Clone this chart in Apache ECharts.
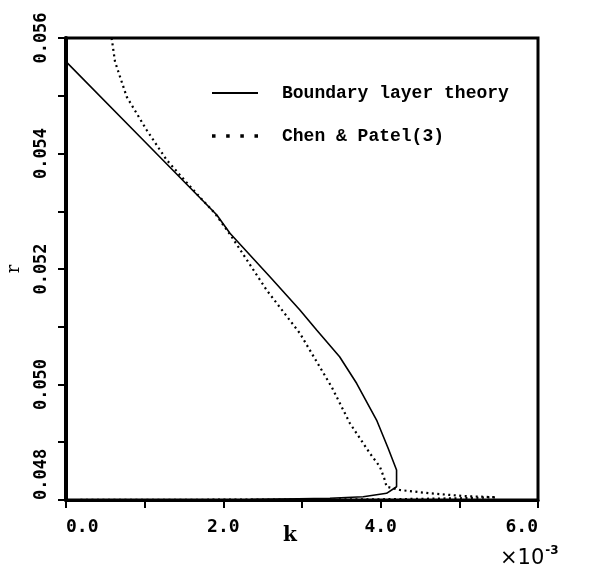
<!DOCTYPE html>
<html>
<head>
<meta charset="utf-8">
<script src="https://cdn.jsdelivr.net/npm/echarts@6/dist/echarts.min.js"></script>
<style>html,body{margin:0;padding:0;background:#fff}#c{width:594px;height:567px}</style>
</head>
<body>
<div id="c"></div>
<script>
// k values in units of 1e-3
var solidK = [0, 0.94, 1.915, 2.084, 2.592, 2.973, 3.186, 3.478, 3.694, 3.948, 4.095, 4.202, 4.202, 4.075, 3.778, 3.355, 2.34, 0];
var solidR = [0.05559, 0.05429, 0.05294, 0.052618, 0.051867, 0.05129, 0.050944, 0.050481, 0.050021, 0.049385, 0.048895, 0.048519, 0.04823, 0.048116, 0.048057, 0.048029, 0.048009, 0.048];
var dottedK = [0.58, 0.623, 0.771, 1.025, 1.28, 1.618, 1.893, 2.105, 2.55, 2.973, 3.38, 3.609, 3.863, 3.99, 4.053, 4.075, 4.244, 4.625, 5.048, 5.47, 5.0, 4.5, 3.8, 0];
var dottedR = [0.056, 0.05559, 0.054984, 0.054407, 0.053887, 0.053368, 0.052965, 0.05256, 0.051636, 0.050886, 0.04995, 0.049328, 0.048808, 0.048577, 0.048346, 0.04823, 0.048173, 0.048116, 0.048069, 0.048047, 0.04803, 0.04802, 0.04801, 0.048];
var seriesNames = ['Boundary layer theory', 'Chen & Patel(3)'];

function zip(a, b) { return a.map(function (v, i) { return [v, b[i]]; }); }

var chart = echarts.init(document.getElementById('c'), null, {renderer: 'canvas'});
var axisFont = 'DejaVu Sans Mono';
chart.setOption({
  animation: false,
  backgroundColor: '#fff',
  color: ['#000', '#000'],
  grid: {left: 66, right: 56, top: 38, bottom: 67, show: true, borderColor: '#000', borderWidth: 3, outerBoundsMode: 'none', containLabel: false},
  legend: {
    orient: 'vertical', left: 207, top: 79, itemWidth: 46, itemHeight: 14, itemGap: 25,
    textStyle: {fontFamily: 'Liberation Mono', fontSize: 18, fontWeight: 'bold', color: '#000', padding: [0, 0, 0, 19]},
    data: [
      {name: seriesNames[0], icon: 'path://M0,6h46v2h-46z', itemStyle: {color: '#000'}},
      {name: seriesNames[1], icon: 'path://M5,4h3v3h-3zM17,4h3v3h-3zM29,4h3v3h-3zM41,4h3v3h-3z', itemStyle: {color: '#000'}}
    ]
  },
  xAxis: {
    type: 'value', min: 0, max: 6, interval: 2,
    name: 'k', nameLocation: 'middle', nameGap: 26, nameMoveOverlap: false,
    nameTextStyle: {fontFamily: 'DejaVu Serif', fontSize: 20, fontWeight: 'bold', color: '#000', padding: [0, 24, 0, 0]},
    axisLine: {lineStyle: {color: '#000', width: 3}},
    axisTick: {show: true, length: 8, lineStyle: {color: '#000', width: 2}},
    minorTick: {show: true, splitNumber: 2, length: 8, lineStyle: {color: '#000', width: 2}},
    splitLine: {show: false},
    axisLabel: {fontFamily: axisFont, fontSize: 18, fontWeight: 'bold', color: '#000', margin: 18,
      alignMinLabel: 'left', alignMaxLabel: 'right',
      formatter: function (v) { return v.toFixed(1); }}
  },
  yAxis: {
    type: 'value', min: 0.048, max: 0.056, interval: 0.002,
    name: 'r', nameLocation: 'middle', nameGap: 43, nameRotate: 90, nameMoveOverlap: false,
    nameTextStyle: {fontFamily: 'DejaVu Serif', fontSize: 18, color: '#000'},
    axisLine: {lineStyle: {color: '#000', width: 4}},
    axisTick: {show: true, length: 8, lineStyle: {color: '#000', width: 2}},
    minorTick: {show: true, splitNumber: 2, length: 8, lineStyle: {color: '#000', width: 2}},
    splitLine: {show: false},
    axisLabel: {fontFamily: axisFont, fontSize: 17, fontWeight: 'bold', color: '#000', margin: 16, rotate: 90,
      alignMinLabel: 'left',
      formatter: function (v) { return v.toFixed(3); }}
  },
  graphic: [{
    type: 'text', left: 500, top: 545,
    style: {
      text: '{a|×10}{b|-3}',
      rich: {
        a: {fontFamily: 'DejaVu Sans', fontSize: 21, fill: '#000', verticalAlign: 'bottom'},
        b: {fontFamily: 'DejaVu Sans', fontSize: 12, fontWeight: 'bold', fill: '#000', verticalAlign: 'top', padding: [0, 0, 12, 1]}
      }
    }
  }],
  series: [
    {name: seriesNames[0], type: 'line', symbol: 'none', smooth: false,
      itemStyle: {color: '#000'}, lineStyle: {color: '#000', width: 1.6}, data: zip(solidK, solidR)},
    {name: seriesNames[1], type: 'line', symbol: 'none', smooth: false,
      itemStyle: {color: '#000'}, lineStyle: {color: '#000', width: 2.2, type: [2, 3.5]}, data: zip(dottedK, dottedR)}
  ]
});
</script>
</body>
</html>
